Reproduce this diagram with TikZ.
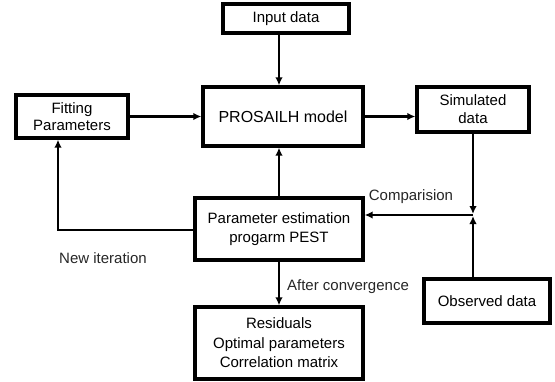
\documentclass[tikz,border=0pt]{standalone}
\usepackage{fontspec}
\setmainfont{Liberation Sans}
\usetikzlibrary{arrows.meta,calc}
\begin{document}
\begin{tikzpicture}[x=1pt,y=-1pt,
  box/.style={draw=black,line width=3.4pt,align=center,inner sep=0pt,font=\fontsize{15}{19}\selectfont},
  conn/.style={line width=2.1pt,-{Latex[length=8pt,width=7.5pt]}},
  thinconn/.style={line width=1.5pt,-{Latex[length=8pt,width=7.5pt]}},
  lbl/.style={font=\fontsize{15}{17}\selectfont,inner sep=0pt,text=black!85}]
\useasboundingbox (0,0) rectangle (555,381);
\node[box,minimum width=126pt,minimum height=29pt] (input) at (286,18.5) {Input data};
\node[box,minimum width=160pt,minimum height=59pt,font=\fontsize{16}{19}\selectfont] (model) at (283,116.5) {PROSAILH model};
\node[box,minimum width=112pt,minimum height=43pt,font=\fontsize{15}{17.5}\selectfont] (fit) at (72,116.5) {Fitting\\Parameters};
\node[box,minimum width=112pt,minimum height=45pt,font=\fontsize{15}{18}\selectfont] (sim) at (473,109.5) {Simulated\\data};
\node[box,minimum width=168pt,minimum height=62pt] (pest) at (279,229) {Parameter estimation\\progarm PEST};
\node[box,minimum width=168pt,minimum height=72pt,font=\fontsize{15}{19.5}\selectfont] (res) at (279,343) {Residuals\\Optimal parameters\\Correlation matrix};
\node[box,minimum width=126pt,minimum height=44pt] (obs) at (487,301) {Observed data};
\coordinate (j) at (473,215);
\coordinate (loop) at (58,230);
\node[lbl] (cmp) at (411,197) {Comparision};
\node[lbl] (newit) at (103,258) {New iteration};
\node[lbl] (conv) at (348,287) {After convergence};
% connectors
\draw[conn] (input.south -| pest.north) -- (model.north -| pest.north);
\draw[conn] (fit.east) -- (fit.east -| model.west);
\draw[conn] (model.east |- fit.east) -- (sim.west |- fit.east);
\draw[conn] (sim.south -| j) -- ($(j)+(0,-1)$);
\draw[conn] (obs.north -| j) -- ($(j)+(0,1)$);
\draw[conn] (j) -- (j -| pest.east);
\draw[conn] (pest.north) -- (pest.north |- model.south);
\draw[thinconn] (pest.west |- loop) -- (loop) -- (loop |- fit.south);
\draw[conn] (pest.south) -- (res.north);
\end{tikzpicture}
\end{document}
